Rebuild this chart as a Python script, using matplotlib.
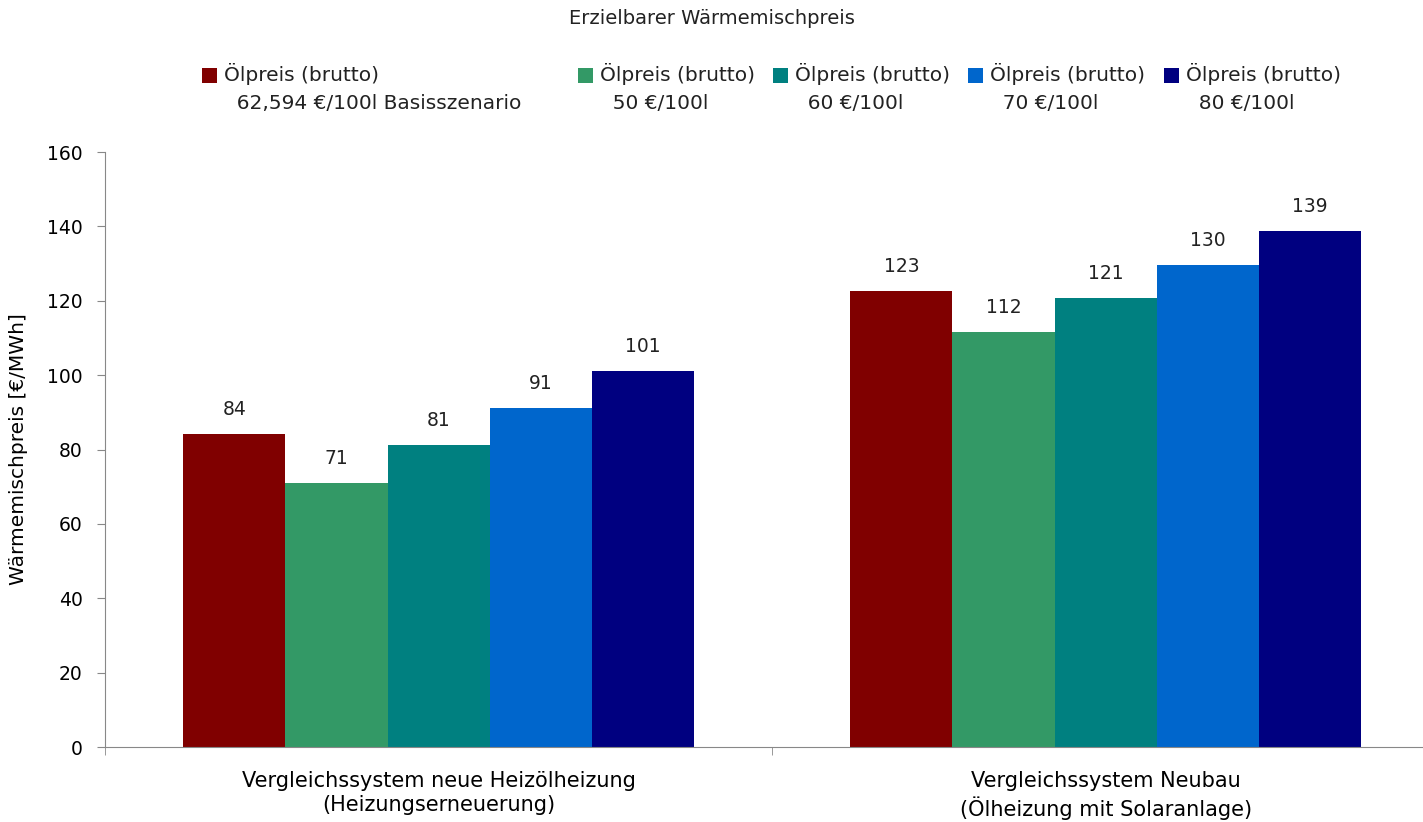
import numpy as np
import matplotlib
matplotlib.use("Agg")
import matplotlib.pyplot as plt
from matplotlib.patches import Rectangle
from matplotlib.container import BarContainer
from matplotlib.legend_handler import HandlerPatch

# data
categories = ["Vergleichssystem neue Heizölheizung\n(Heizungserneuerung)",
              "Vergleichssystem Neubau\n(Ölheizung mit Solaranlage)"]
series_names = ["Ölpreis (brutto)\n  62,594 €/100l Basisszenario      ",
                "Ölpreis (brutto)\n  50 €/100l",
                "Ölpreis (brutto)\n  60 €/100l",
                "Ölpreis (brutto)\n  70 €/100l",
                "Ölpreis (brutto)\n  80 €/100l"]
basis = [84.1, 122.6]
oil_50 = [71.0, 111.6]
oil_60 = [81.2, 120.7]
oil_70 = [91.1, 129.6]
oil_80 = [101.1, 138.7]
colors = ["#800000", "#339966", "#008080", "#0066CC", "#000080"]

series = [basis, oil_50, oil_60, oil_70, oil_80]

plt.rcParams['font.family'] = ['DejaVu Sans']
plt.rcParams['text.color'] = '#222222'

fig = plt.figure(figsize=(14.23, 8.22), dpi=100)
ax = fig.add_axes([0.0738, 0.0912, 0.9375, 0.7238])

x = np.arange(len(categories))
w = 0.153
for i, vals in enumerate(series):
    pos = x + (i - 2) * w
    bars = ax.bar(pos, vals, width=w, color=colors[i], label=series_names[i], linewidth=0)
    for b, v in zip(bars, vals):
        ax.annotate(f"{v:.0f}", (b.get_x() + b.get_width() / 2, v),
                    xytext=(0, 11), textcoords="offset points",
                    ha="center", va="bottom", fontsize=13.5)

ax.set_xlim(-0.5, 1.5)
ax.set_ylim(0, 160)
ax.set_yticks(np.arange(0, 161, 20))
ax.set_xticks(x)
ax.set_xticklabels(categories, fontsize=15, linespacing=1.3)
ax.set_xticks([-0.5, 0.5, 1.5], minor=True)
ax.tick_params(axis="x", which="major", length=0, pad=17)
ax.tick_params(axis="x", which="minor", length=6, color="#888888", direction="out")
ax.tick_params(axis="y", length=6, color="#888888", labelsize=13.5, pad=10)
for s in ["top", "right"]:
    ax.spines[s].set_visible(False)
for s in ["left", "bottom"]:
    ax.spines[s].set_color("#888888")
ax.set_ylabel("Wärmemischpreis [€/MWh]", fontsize=14.5, labelpad=14)

fig.text(0.5, 0.977, "Erzielbarer Wärmemischpreis", ha="center", va="center", fontsize=14)


# square handle aligned with the first text line
class UpperSquare(HandlerPatch):
    def create_artists(self, legend, orig_handle, xdescent, ydescent,
                       width, height, fontsize, trans):
        r = Rectangle((-xdescent, -ydescent + fontsize * 0.65), width, height,
                      facecolor=orig_handle.patches[0].get_facecolor(), transform=trans)
        return [r]


handles, labels = ax.get_legend_handles_labels()
leg = fig.legend(handles, labels, loc="center", bbox_to_anchor=(0.542, 0.893), ncol=5,
                 frameon=False, fontsize=14.5, handlelength=0.75, handleheight=0.75,
                 handletextpad=0.35, columnspacing=0.9,
                 handler_map={BarContainer: UpperSquare()})
for t in leg.get_texts():
    t.set_linespacing(1.6)

fig.savefig("out.png", dpi=100)
